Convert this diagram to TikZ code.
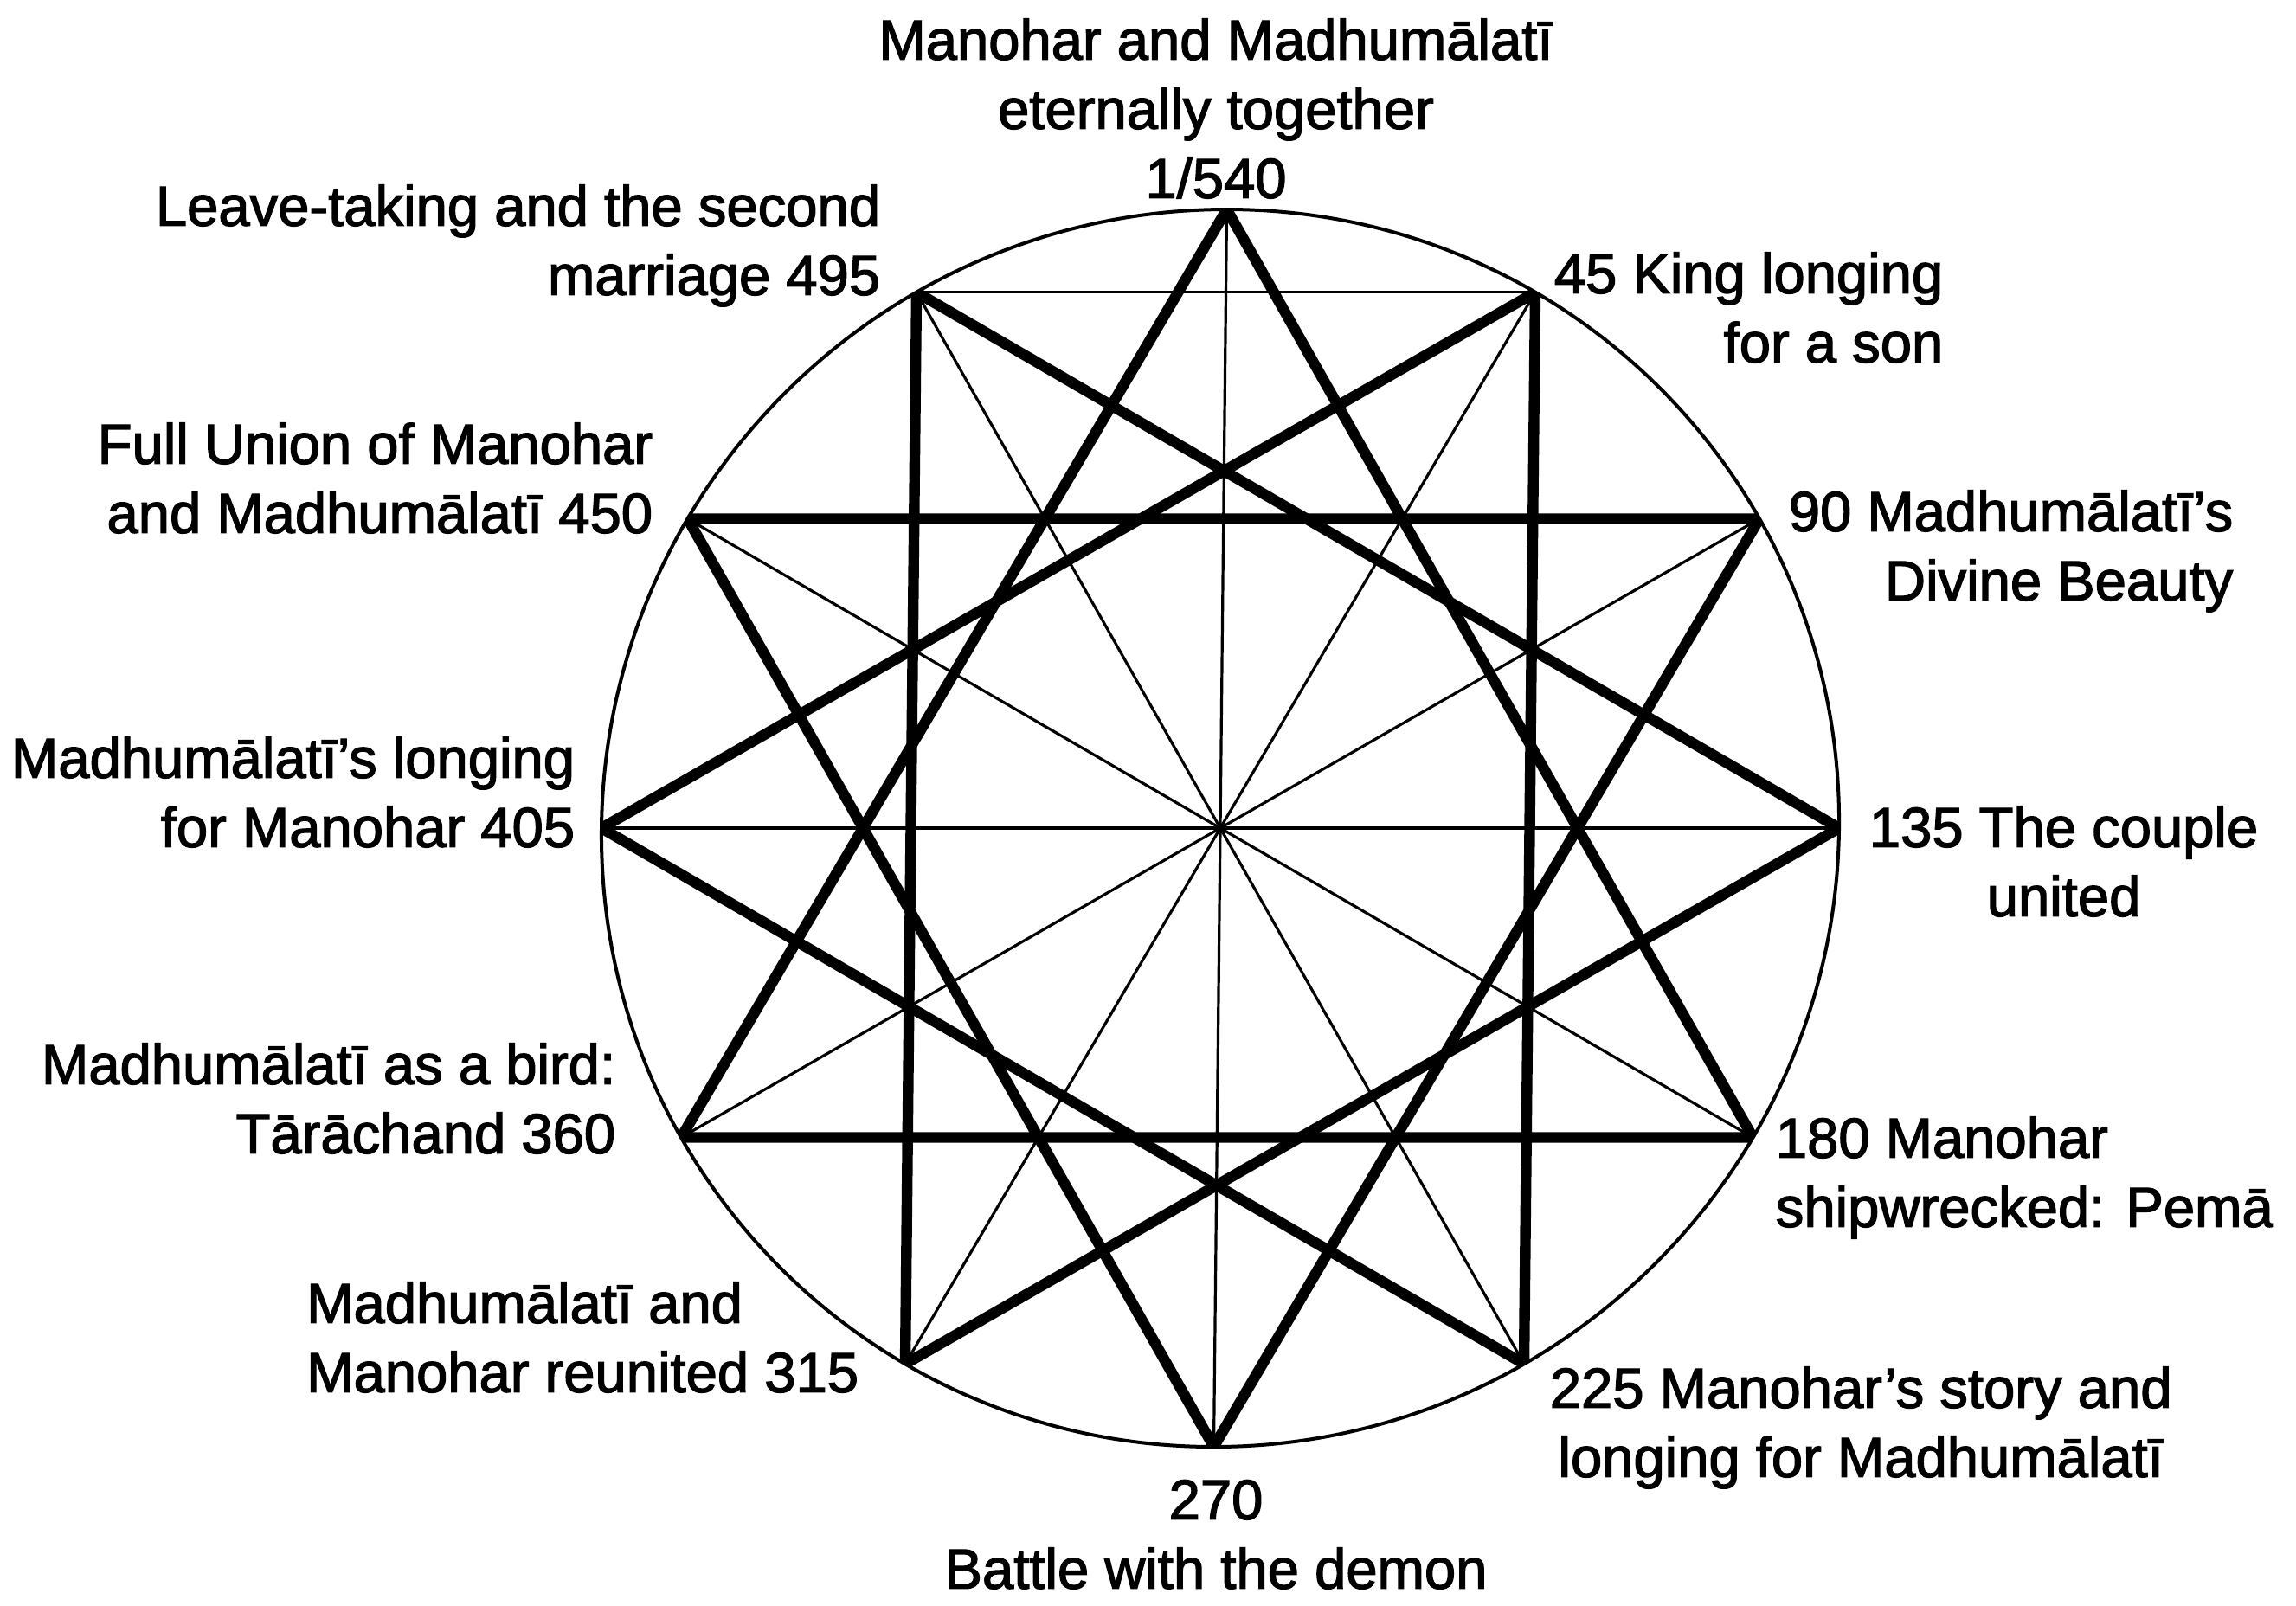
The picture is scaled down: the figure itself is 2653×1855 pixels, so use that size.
\documentclass[tikz,border=0pt]{standalone}
\usepackage{fontspec}
\setmainfont{Liberation Sans}[FakeBold=2]
\begin{document}
\begin{tikzpicture}[x=0.25pt,y=0.25pt,
  lbl/.style={inner sep=0pt, font=\fontsize{16.3}{20}\selectfont},
  thinl/.style={draw=black, line width=0.8pt},
  circl/.style={draw=black, line width=1pt},
  thickl/.style={draw=black, line width=3.1pt, line join=miter}]
\useasboundingbox (0,0) rectangle (2653,-1855);
\coordinate (C) at (1410,-957);
\begin{scope}[shift={(1410,-957)}, xslant=0.0105]
\foreach \k in {0,...,11}{\path (0,0) ++({90-30*\k}:715) coordinate (v\k);}
% circle
\draw[circl] (0,0) circle (715);
% diameters
\foreach \k in {0,...,5}{\pgfmathtruncatemacro\j{\k+6}\draw[thinl] (v\k) -- (v\j);}
% chord 495 - 45
\draw[thinl] (v11) -- (v1);
% four thick triangles
\begin{scope}
\clip (0,0) circle (715);
\foreach \a/\b/\c in {0/4/8,1/5/9,2/6/10,3/7/11}
  \draw[thickl] (v\a) -- (v\b) -- (v\c) -- cycle;
\end{scope}
\end{scope}
% labels
\node[lbl, anchor=north, align=center] (t0) at (1405,-12) {\strut Manohar and Madhumālatī\\\strut eternally together\\\strut 1/540};
\node[lbl, anchor=north west, align=right] (t45) at (1795,-282) {\strut 45 King longing\\\strut for a son};
\node[lbl, anchor=north west, align=right] (t90) at (2066,-557) {\strut 90 Madhumālatī's\\\strut Divine Beauty};
\node[lbl, anchor=north west, align=center] (t135) at (2159,-922) {\strut 135 The couple\\\strut united};
\node[lbl, anchor=north west, align=left] (t180) at (2051,-1281) {\strut 180 Manohar\\\strut shipwrecked: Pemā};
\node[lbl, anchor=north west, align=center] (t225) at (1790,-1570) {\strut 225 Manohar's story and\\\strut longing for Madhumālatī};
\node[lbl, anchor=north, align=center] (t270) at (1405,-1699) {\strut 270\\\strut Battle with the demon};
\node[lbl, anchor=north east, align=left] (t315) at (993,-1472) {\strut Madhumālatī and\\\strut Manohar reunited 315};
\node[lbl, anchor=north east, align=right] (t360) at (712,-1196) {\strut Madhumālatī as a bird:\\\strut Tārāchand 360};
\node[lbl, anchor=north east, align=right] (t405) at (665,-842) {\strut Madhumālatī's longing\\\strut for Manohar 405};
\node[lbl, anchor=north east, align=right] (t450) at (755,-479) {\strut Full Union of Manohar\\\strut and Madhumālatī 450};
\node[lbl, anchor=north east, align=right] (t495) at (1018,-204) {\strut Leave-taking and the second\\\strut marriage 495};
\end{tikzpicture}
\end{document}
